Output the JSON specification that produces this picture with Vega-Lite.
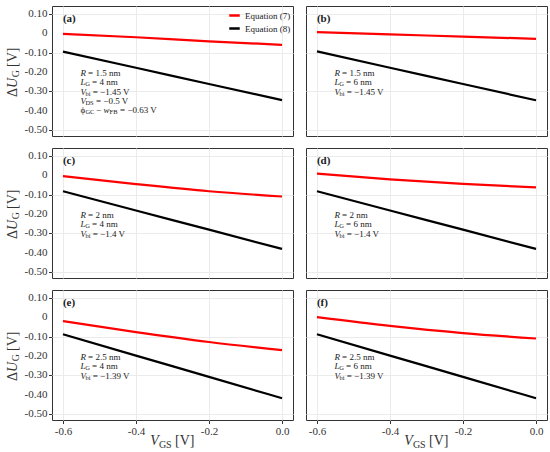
{
  "$schema": "https://vega.github.io/schema/vega-lite/v6.json",
  "background": "white",
  "padding": 5,
  "data": {
    "values": [
      {"panel": "(a)", "eq": "Equation (7)", "vgs": -0.6, "du": -0.004},
      {"panel": "(a)", "eq": "Equation (7)", "vgs": -0.4, "du": -0.021},
      {"panel": "(a)", "eq": "Equation (7)", "vgs": -0.2, "du": -0.042},
      {"panel": "(a)", "eq": "Equation (7)", "vgs": 0.0, "du": -0.060},
      {"panel": "(a)", "eq": "Equation (8)", "vgs": -0.6, "du": -0.095},
      {"panel": "(a)", "eq": "Equation (8)", "vgs": -0.4, "du": -0.178},
      {"panel": "(a)", "eq": "Equation (8)", "vgs": -0.2, "du": -0.262},
      {"panel": "(a)", "eq": "Equation (8)", "vgs": 0.0, "du": -0.345},
      {"panel": "(b)", "eq": "Equation (7)", "vgs": -0.6, "du": 0.005},
      {"panel": "(b)", "eq": "Equation (7)", "vgs": -0.4, "du": -0.006},
      {"panel": "(b)", "eq": "Equation (7)", "vgs": -0.2, "du": -0.018},
      {"panel": "(b)", "eq": "Equation (7)", "vgs": 0.0, "du": -0.029},
      {"panel": "(b)", "eq": "Equation (8)", "vgs": -0.6, "du": -0.094},
      {"panel": "(b)", "eq": "Equation (8)", "vgs": -0.4, "du": -0.178},
      {"panel": "(b)", "eq": "Equation (8)", "vgs": -0.2, "du": -0.262},
      {"panel": "(b)", "eq": "Equation (8)", "vgs": 0.0, "du": -0.346},
      {"panel": "(c)", "eq": "Equation (7)", "vgs": -0.6, "du": -0.005},
      {"panel": "(c)", "eq": "Equation (7)", "vgs": -0.4, "du": -0.046},
      {"panel": "(c)", "eq": "Equation (7)", "vgs": -0.2, "du": -0.083},
      {"panel": "(c)", "eq": "Equation (7)", "vgs": 0.0, "du": -0.110},
      {"panel": "(c)", "eq": "Equation (8)", "vgs": -0.6, "du": -0.083},
      {"panel": "(c)", "eq": "Equation (8)", "vgs": -0.4, "du": -0.182},
      {"panel": "(c)", "eq": "Equation (8)", "vgs": -0.2, "du": -0.281},
      {"panel": "(c)", "eq": "Equation (8)", "vgs": 0.0, "du": -0.380},
      {"panel": "(d)", "eq": "Equation (7)", "vgs": -0.6, "du": 0.008},
      {"panel": "(d)", "eq": "Equation (7)", "vgs": -0.4, "du": -0.022},
      {"panel": "(d)", "eq": "Equation (7)", "vgs": -0.2, "du": -0.045},
      {"panel": "(d)", "eq": "Equation (7)", "vgs": 0.0, "du": -0.063},
      {"panel": "(d)", "eq": "Equation (8)", "vgs": -0.6, "du": -0.083},
      {"panel": "(d)", "eq": "Equation (8)", "vgs": -0.4, "du": -0.182},
      {"panel": "(d)", "eq": "Equation (8)", "vgs": -0.2, "du": -0.281},
      {"panel": "(d)", "eq": "Equation (8)", "vgs": 0.0, "du": -0.380},
      {"panel": "(e)", "eq": "Equation (7)", "vgs": -0.6, "du": -0.020},
      {"panel": "(e)", "eq": "Equation (7)", "vgs": -0.4, "du": -0.077},
      {"panel": "(e)", "eq": "Equation (7)", "vgs": -0.2, "du": -0.128},
      {"panel": "(e)", "eq": "Equation (7)", "vgs": 0.0, "du": -0.170},
      {"panel": "(e)", "eq": "Equation (8)", "vgs": -0.6, "du": -0.088},
      {"panel": "(e)", "eq": "Equation (8)", "vgs": -0.4, "du": -0.198},
      {"panel": "(e)", "eq": "Equation (8)", "vgs": -0.2, "du": -0.308},
      {"panel": "(e)", "eq": "Equation (8)", "vgs": 0.0, "du": -0.418},
      {"panel": "(f)", "eq": "Equation (7)", "vgs": -0.6, "du": 0.000},
      {"panel": "(f)", "eq": "Equation (7)", "vgs": -0.4, "du": -0.045},
      {"panel": "(f)", "eq": "Equation (7)", "vgs": -0.2, "du": -0.082},
      {"panel": "(f)", "eq": "Equation (7)", "vgs": 0.0, "du": -0.110},
      {"panel": "(f)", "eq": "Equation (8)", "vgs": -0.6, "du": -0.088},
      {"panel": "(f)", "eq": "Equation (8)", "vgs": -0.4, "du": -0.198},
      {"panel": "(f)", "eq": "Equation (8)", "vgs": -0.2, "du": -0.308},
      {"panel": "(f)", "eq": "Equation (8)", "vgs": 0.0, "du": -0.418},
      {"panel": "(a)", "line": 1, "val": "= 1.5 nm"},
      {"panel": "(a)", "line": 2, "val": "= 4 nm"},
      {"panel": "(a)", "line": 3, "val": "= −1.45 V"},
      {"panel": "(a)", "line": 4, "val": "= −0.5 V"},
      {"panel": "(a)", "line": 5, "val": "= −0.63 V"},
      {"panel": "(b)", "line": 1, "val": "= 1.5 nm"},
      {"panel": "(b)", "line": 2, "val": "= 6 nm"},
      {"panel": "(b)", "line": 3, "val": "= −1.45 V"},
      {"panel": "(c)", "line": 1, "val": "= 2 nm"},
      {"panel": "(c)", "line": 2, "val": "= 4 nm"},
      {"panel": "(c)", "line": 3, "val": "= −1.4 V"},
      {"panel": "(d)", "line": 1, "val": "= 2 nm"},
      {"panel": "(d)", "line": 2, "val": "= 6 nm"},
      {"panel": "(d)", "line": 3, "val": "= −1.4 V"},
      {"panel": "(e)", "line": 1, "val": "= 2.5 nm"},
      {"panel": "(e)", "line": 2, "val": "= 4 nm"},
      {"panel": "(e)", "line": 3, "val": "= −1.39 V"},
      {"panel": "(f)", "line": 1, "val": "= 2.5 nm"},
      {"panel": "(f)", "line": 2, "val": "= 6 nm"},
      {"panel": "(f)", "line": 3, "val": "= −1.39 V"},
      {"panel": "(a)", "tick": 0.1, "tlab": "0.10"},
      {"panel": "(a)", "tick": 0.0, "tlab": "0"},
      {"panel": "(a)", "tick": -0.1, "tlab": "-0.10"},
      {"panel": "(a)", "tick": -0.2, "tlab": "-0.20"},
      {"panel": "(a)", "tick": -0.3, "tlab": "-0.30"},
      {"panel": "(a)", "tick": -0.4, "tlab": "-0.40"},
      {"panel": "(a)", "tick": -0.5, "tlab": "-0.50"},
      {"panel": "(c)", "tick": 0.1, "tlab": "0.10"},
      {"panel": "(c)", "tick": 0.0, "tlab": "0"},
      {"panel": "(c)", "tick": -0.1, "tlab": "-0.10"},
      {"panel": "(c)", "tick": -0.2, "tlab": "-0.20"},
      {"panel": "(c)", "tick": -0.3, "tlab": "-0.30"},
      {"panel": "(c)", "tick": -0.4, "tlab": "-0.40"},
      {"panel": "(c)", "tick": -0.5, "tlab": "-0.50"},
      {"panel": "(e)", "tick": 0.1, "tlab": "0.10"},
      {"panel": "(e)", "tick": 0.0, "tlab": "0"},
      {"panel": "(e)", "tick": -0.1, "tlab": "-0.10"},
      {"panel": "(e)", "tick": -0.2, "tlab": "-0.20"},
      {"panel": "(e)", "tick": -0.3, "tlab": "-0.30"},
      {"panel": "(e)", "tick": -0.4, "tlab": "-0.40"},
      {"panel": "(e)", "tick": -0.5, "tlab": "-0.50"}
    ]
  },
  "facet": {"field": "panel", "type": "nominal", "title": null, "header": {"labels": false, "labelExpr": "''", "labelFontSize": 0, "labelPadding": 0, "title": null}},
  "columns": 2,
  "spacing": {"row": 12, "column": 13},
  "bounds": "flush",
  "spec": {
    "width": 241,
    "height": 130,
    "layer": [
      {
        "transform": [{"filter": "isValid(datum.du)"}],
        "mark": {"type": "line", "strokeWidth": 2.2, "interpolate": "monotone"},
        "encoding": {
          "x": {
            "field": "vgs", "type": "quantitative",
            "scale": {"domain": [-0.63, 0.03], "nice": false, "zero": false},
            "axis": {
              "title": null,
              "values": [-0.6, -0.4, -0.2, 0],
              "labelOverlap": false,
              "labelExpr": "(datum.value < -0.001 ? '-' : '') + format(abs(datum.value), '.1f')"
            }
          },
          "y": {
            "field": "du", "type": "quantitative",
            "scale": {"domain": [-0.53, 0.14], "nice": false, "zero": false},
            "axis": {
              "title": null,
              "labels": false,
              "values": [0.1, 0, -0.1, -0.2, -0.3, -0.4, -0.5]
            }
          },
          "color": {
            "field": "eq", "type": "nominal",
            "scale": {"domain": ["Equation (7)", "Equation (8)"], "range": ["#ff0000", "#000000"]},
            "legend": {
              "title": null, "orient": "none", "legendX": 176, "legendY": 3,
              "symbolType": "stroke", "symbolStrokeWidth": 2.5, "symbolSize": 110,
              "labelFont": "Liberation Serif", "labelFontSize": 9, "labelColor": "#1a1a1a",
              "labelOffset": 4, "rowPadding": 1
            }
          }
        }
      },
      {
        "transform": [{"filter": "isValid(datum.tick)"}],
        "mark": {"type": "text", "align": "right", "fontSize": 11, "dx": -4.5, "color": "#333333"},
        "encoding": {"x": {"datum": -0.63}, "y": {"field": "tick", "type": "quantitative"}, "text": {"field": "tlab"}}
      },
      {
        "transform": [{"filter": "datum.line == 1"}],
        "mark": {"type": "text", "fontSize": 11, "fontWeight": "bold"},
        "encoding": {"x": {"datum": -0.6}, "y": {"datum": 0.075}, "text": {"field": "panel"}}
      },
      {
        "transform": [{"filter": "datum.line == 1"}],
        "mark": {"type": "text", "text": "R", "fontStyle": "italic"},
        "encoding": {"x": {"datum": -0.552}, "y": {"datum": -0.205}}
      },
      {
        "transform": [{"filter": "datum.line == 1"}],
        "mark": {"type": "text", "dx": 7.6},
        "encoding": {"x": {"datum": -0.552}, "y": {"datum": -0.205}, "text": {"field": "val"}}
      },
      {
        "transform": [{"filter": "datum.line == 2"}],
        "mark": {"type": "text", "text": "L", "fontStyle": "italic"},
        "encoding": {"x": {"datum": -0.552}, "y": {"datum": -0.253}}
      },
      {
        "transform": [{"filter": "datum.line == 2"}],
        "mark": {"type": "text", "text": "G", "fontSize": 6.5, "dx": 4.7, "dy": 2},
        "encoding": {"x": {"datum": -0.552}, "y": {"datum": -0.253}}
      },
      {
        "transform": [{"filter": "datum.line == 2"}],
        "mark": {"type": "text", "dx": 11.6},
        "encoding": {"x": {"datum": -0.552}, "y": {"datum": -0.253}, "text": {"field": "val"}}
      },
      {
        "transform": [{"filter": "datum.line == 3"}],
        "mark": {"type": "text", "text": "V", "fontStyle": "italic"},
        "encoding": {"x": {"datum": -0.552}, "y": {"datum": -0.301}}
      },
      {
        "transform": [{"filter": "datum.line == 3"}],
        "mark": {"type": "text", "text": "bi", "fontSize": 6.5, "dx": 4.9, "dy": 2},
        "encoding": {"x": {"datum": -0.552}, "y": {"datum": -0.301}}
      },
      {
        "transform": [{"filter": "datum.line == 3"}],
        "mark": {"type": "text", "dx": 12.3},
        "encoding": {"x": {"datum": -0.552}, "y": {"datum": -0.301}, "text": {"field": "val"}}
      },
      {
        "transform": [{"filter": "datum.line == 4"}],
        "mark": {"type": "text", "text": "V", "fontStyle": "italic"},
        "encoding": {"x": {"datum": -0.552}, "y": {"datum": -0.349}}
      },
      {
        "transform": [{"filter": "datum.line == 4"}],
        "mark": {"type": "text", "text": "DS", "fontSize": 6.5, "dx": 4.9, "dy": 2},
        "encoding": {"x": {"datum": -0.552}, "y": {"datum": -0.349}}
      },
      {
        "transform": [{"filter": "datum.line == 4"}],
        "mark": {"type": "text", "dx": 15.5},
        "encoding": {"x": {"datum": -0.552}, "y": {"datum": -0.349}, "text": {"field": "val"}}
      },
      {
        "transform": [{"filter": "datum.line == 5"}],
        "mark": {"type": "text", "text": "ϕ"},
        "encoding": {"x": {"datum": -0.552}, "y": {"datum": -0.397}}
      },
      {
        "transform": [{"filter": "datum.line == 5"}],
        "mark": {"type": "text", "text": "GC", "fontSize": 6.5, "dx": 4.9, "dy": 2},
        "encoding": {"x": {"datum": -0.552}, "y": {"datum": -0.397}}
      },
      {
        "transform": [{"filter": "datum.line == 5"}],
        "mark": {"type": "text", "text": "−", "dx": 15.6},
        "encoding": {"x": {"datum": -0.552}, "y": {"datum": -0.397}}
      },
      {
        "transform": [{"filter": "datum.line == 5"}],
        "mark": {"type": "text", "text": "w", "fontStyle": "italic", "dx": 23},
        "encoding": {"x": {"datum": -0.552}, "y": {"datum": -0.397}}
      },
      {
        "transform": [{"filter": "datum.line == 5"}],
        "mark": {"type": "text", "text": "FB", "fontSize": 6.5, "dx": 29.1, "dy": 2},
        "encoding": {"x": {"datum": -0.552}, "y": {"datum": -0.397}}
      },
      {
        "transform": [{"filter": "datum.line == 5"}],
        "mark": {"type": "text", "dx": 39.6},
        "encoding": {"x": {"datum": -0.552}, "y": {"datum": -0.397}, "text": {"field": "val"}}
      },
      {
        "transform": [{"filter": "datum.line == 1 && (datum.panel == '(a)' || datum.panel == '(c)' || datum.panel == '(e)')"}],
        "mark": {"type": "text", "text": "Δ", "fontSize": 14, "angle": 270, "baseline": "alphabetic", "dx": -25, "color": "#333333"},
        "encoding": {"x": {"datum": -0.727}, "y": {"datum": -0.2}}
      },
      {
        "transform": [{"filter": "datum.line == 1 && (datum.panel == '(a)' || datum.panel == '(c)' || datum.panel == '(e)')"}],
        "mark": {"type": "text", "text": "U", "fontSize": 14, "fontStyle": "italic", "angle": 270, "baseline": "alphabetic", "dx": -16, "color": "#333333"},
        "encoding": {"x": {"datum": -0.727}, "y": {"datum": -0.2}}
      },
      {
        "transform": [{"filter": "datum.line == 1 && (datum.panel == '(a)' || datum.panel == '(c)' || datum.panel == '(e)')"}],
        "mark": {"type": "text", "text": "G", "fontSize": 10, "angle": 270, "baseline": "alphabetic", "dx": -5.4, "dy": 2.5, "color": "#333333"},
        "encoding": {"x": {"datum": -0.727}, "y": {"datum": -0.2}}
      },
      {
        "transform": [{"filter": "datum.line == 1 && (datum.panel == '(a)' || datum.panel == '(c)' || datum.panel == '(e)')"}],
        "mark": {"type": "text", "text": "[V]", "fontSize": 14, "angle": 270, "baseline": "alphabetic", "dx": 5, "color": "#333333"},
        "encoding": {"x": {"datum": -0.727}, "y": {"datum": -0.2}}
      },
      {
        "transform": [{"filter": "datum.line == 1 && (datum.panel == '(e)' || datum.panel == '(f)')"}],
        "mark": {"type": "text", "text": "V", "fontSize": 14, "fontStyle": "italic", "baseline": "alphabetic", "dx": -22.2, "color": "#333333"},
        "encoding": {"x": {"datum": -0.3}, "y": {"datum": -0.66}}
      },
      {
        "transform": [{"filter": "datum.line == 1 && (datum.panel == '(e)' || datum.panel == '(f)')"}],
        "mark": {"type": "text", "text": "GS", "fontSize": 10, "baseline": "alphabetic", "dx": -13.6, "dy": 3, "color": "#333333"},
        "encoding": {"x": {"datum": -0.3}, "y": {"datum": -0.66}}
      },
      {
        "transform": [{"filter": "datum.line == 1 && (datum.panel == '(e)' || datum.panel == '(f)')"}],
        "mark": {"type": "text", "text": "[V]", "fontSize": 14, "baseline": "alphabetic", "dx": 2.5, "color": "#333333"},
        "encoding": {"x": {"datum": -0.3}, "y": {"datum": -0.66}}
      }
    ]
  },
  "config": {
    "font": "Liberation Serif",
    "view": {"stroke": "#333333", "strokeWidth": 1},
    "axis": {
      "domain": false,
      "grid": true,
      "gridColor": "#ebebeb",
      "gridWidth": 1,
      "ticks": true,
      "tickColor": "#333333",
      "tickSize": 3.5,
      "labelFont": "Liberation Serif",
      "labelFontSize": 11,
      "labelColor": "#333333",
      "labelPadding": 2,
      "labelFlush": false
    },
    "text": {"font": "Liberation Serif", "fontSize": 9, "align": "left", "baseline": "middle", "color": "#1a1a1a"}
  }
}
